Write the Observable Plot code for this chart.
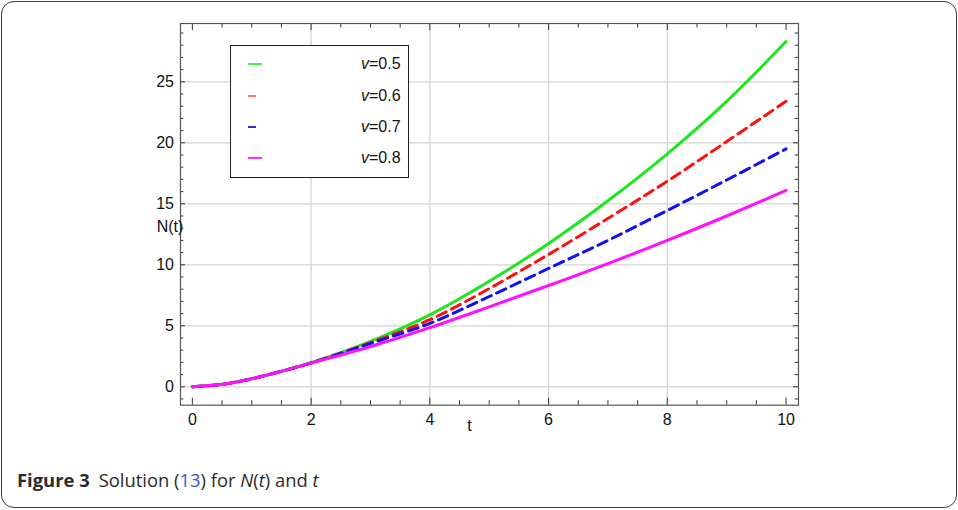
<!DOCTYPE html>
<html>
<head>
<meta charset="utf-8">
<script src="https://cdn.jsdelivr.net/npm/d3@7"></script>
<script src="https://cdn.jsdelivr.net/npm/@observablehq/plot@0.6"></script>
<style>
  html, body { margin: 0; padding: 0; background: #fff; }
  #wrap { position: relative; width: 958px; height: 510px; overflow: hidden; }
  #border { position: absolute; left: 0.5px; top: 0.5px; width: 954px; height: 505px;
            border: 1.5px solid #3a3a3a; border-radius: 13px; }
  #chart { position: absolute; left: 0; top: 0; }
  #legend { position: absolute; left: 230px; top: 45px; width: 177px; height: 131px;
            border: 1px solid #222; background: #fff;
            font-family: "Liberation Sans", Arial, sans-serif; font-size: 16px; color: #111; }
  .item { position: absolute; left: 0; width: 100%; height: 20px; }
  .swatch { position: absolute; left: 17px; top: 9px; height: 1.6px; }
  .lab { position: absolute; left: 130px; top: 0; line-height: 20px; }
  #caption { position: absolute; left: 17px; top: 469px; font-family: "Open Sans", sans-serif;
             font-size: 18.4px; color: #2a2a2a; line-height: 22px; white-space: nowrap; }
  #caption b { font-weight: 700; margin-right: 9px; }
  #caption .ref { color: #2e5bd6; }
</style>
</head>
<body>
<div id="wrap">
  <div id="border"></div>
  <div id="chart"></div>
  <div id="legend"></div>
  <div id="caption"><b>Figure 3</b>Solution (<span class="ref">13</span>) for <i>N</i>(<i>t</i>) and <i>t</i></div>
</div>
<script>
// ---- data ----
const tValues = [0, 0.5, 1, 1.5, 2, 3, 4, 5, 6, 7, 8, 9, 10];
const nV05 = [0, 0.2, 0.66, 1.27, 1.97, 3.72, 5.9, 8.65, 11.75, 15.25, 19.1, 23.4, 28.3];
const nV06 = [0, 0.2, 0.66, 1.27, 1.96, 3.62, 5.5, 8.05, 10.85, 13.8, 16.85, 20.1, 23.4];
const nV07 = [0, 0.2, 0.66, 1.27, 1.95, 3.55, 5.2, 7.4, 9.7, 12.0, 14.45, 16.95, 19.5];
const nV08 = [0, 0.2, 0.66, 1.27, 1.94, 3.3, 4.85, 6.55, 8.3, 10.1, 12.0, 14.0, 16.1];
const seriesNames = ["0.5", "0.6", "0.7", "0.8"];
const seriesColors = ["#1ee61e", "#ff1010", "#1010f0", "#ff10ff"];
const legendColors = ["#44ee44", "#ff7070", "#3030e0", "#ff30ff"];
const seriesDashed = [false, true, true, false];
const xTickLabels = [0, 2, 4, 6, 8, 10];
const yTickLabels = [0, 5, 10, 15, 20, 25];
const xGridLines = [2, 4, 6, 8];
const yGridLines = [0, 5, 10, 15, 20, 25];
const xMinorTicks = d3.range(0, 10.01, 0.5);
const yMinorTicks = d3.range(-1, 30, 1);

const seriesValues = [nV05, nV06, nV07, nV08];
const W = 958, H = 440, mL = 180, mR = 160, mT = 23, mB = 35.3;
const innerW = W - mL - mR, innerH = H - mT - mB;

const lineMarks = seriesValues.map((vals, i) =>
  Plot.line(tValues.map((t, j) => ({t, n: vals[j]})), {
    x: "t", y: "n", stroke: seriesColors[i], strokeWidth: 3,
    strokeDasharray: seriesDashed[i] ? "10,6" : null, curve: "catmull-rom"
  })
);

const isMajorX = d => Math.abs(d / 2 - Math.round(d / 2)) < 1e-9;
const isMajorY = d => d % 5 === 0;
const tickStroke = "#333";

const chart = Plot.plot({
  width: W, height: H, marginLeft: mL, marginRight: mR, marginTop: mT, marginBottom: mB,
  x: {domain: [-0.2, 10.21]},
  y: {domain: [-1.51, 29.78]},
  style: {fontFamily: "'Liberation Sans', Arial, sans-serif", fontSize: "16px", background: "transparent", color: "#111", overflow: "visible"},
  marks: [
    Plot.gridX(xGridLines, {stroke: "#d4d4d4", strokeOpacity: 1, strokeWidth: 1.3}),
    Plot.gridY(yGridLines, {stroke: "#d4d4d4", strokeOpacity: 1, strokeWidth: 1.3}),
    Plot.ruleX(xMinorTicks.filter(isMajorX), {x: d => d, insetTop: innerH - 7, stroke: tickStroke}),
    Plot.ruleX(xMinorTicks.filter(d => !isMajorX(d)), {x: d => d, insetTop: innerH - 4.5, stroke: tickStroke}),
    Plot.ruleX(xMinorTicks.filter(isMajorX), {x: d => d, insetBottom: innerH - 7, stroke: tickStroke}),
    Plot.ruleX(xMinorTicks.filter(d => !isMajorX(d)), {x: d => d, insetBottom: innerH - 4.5, stroke: tickStroke}),
    Plot.ruleY(yMinorTicks.filter(isMajorY), {y: d => d, insetRight: innerW - 5, stroke: tickStroke}),
    Plot.ruleY(yMinorTicks.filter(d => !isMajorY(d)), {y: d => d, insetRight: innerW - 3.3, stroke: tickStroke}),
    Plot.ruleY(yMinorTicks.filter(isMajorY), {y: d => d, insetLeft: innerW - 5, stroke: tickStroke}),
    Plot.ruleY(yMinorTicks.filter(d => !isMajorY(d)), {y: d => d, insetLeft: innerW - 3.3, stroke: tickStroke}),
    ...lineMarks,
    Plot.frame({stroke: "#555", strokeWidth: 1.2}),
    Plot.axisX(xTickLabels, {tickSize: 0, tickPadding: 8, label: null, tickFormat: d => String(d)}),
    Plot.axisY(yTickLabels, {tickSize: 0, tickPadding: 6.5, label: null, tickFormat: d => String(d)}),
    Plot.text(["t"], {text: d => d, frameAnchor: "bottom", dx: -20, dy: 26, fontSize: 16}),
    Plot.text(["N(t)"], {text: d => d, frameAnchor: "left", textAnchor: "middle", dx: -10.5, dy: 13, fontSize: 16})
  ]
});
document.getElementById("chart").appendChild(chart);

// legend
const legend = document.getElementById("legend");
const itemTops = [8, 40, 71, 102];
seriesNames.forEach((name, i) => {
  const item = document.createElement("div");
  item.className = "item";
  item.style.top = itemTops[i] + "px";
  const sw = document.createElement("div");
  sw.className = "swatch";
  sw.style.width = (seriesDashed[i] ? 8 : 14) + "px";
  sw.style.background = legendColors[i];
  const lab = document.createElement("div");
  lab.className = "lab";
  lab.innerHTML = "<i>v</i>=" + name;
  item.appendChild(sw);
  item.appendChild(lab);
  legend.appendChild(item);
});
</script>
</body>
</html>
